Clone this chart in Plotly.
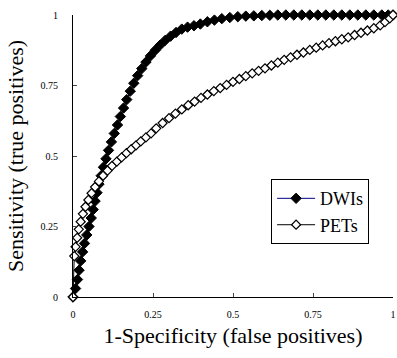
import plotly.graph_objects as go

# DWIs ROC points (1-specificity, sensitivity)
dwi_x = [0.000, 0.008, 0.014, 0.019, 0.024, 0.030, 0.036, 0.043, 0.050, 0.057,
         0.063, 0.069, 0.075, 0.081, 0.088, 0.095, 0.103, 0.111, 0.120, 0.129,
         0.139, 0.148, 0.158, 0.168, 0.179, 0.190, 0.202, 0.215, 0.228, 0.242,
         0.257, 0.272, 0.288, 0.305, 0.322, 0.340, 0.358, 0.378, 0.398, 0.420,
         0.442, 0.465, 0.490, 0.515, 0.540, 0.565, 0.590, 0.615, 0.640, 0.665,
         0.690, 0.715, 0.740, 0.765, 0.790, 0.815, 0.840, 0.865, 0.890, 0.915,
         0.940, 0.965, 0.985, 1.000]
dwi_y = [0.000, 0.030, 0.062, 0.095, 0.128, 0.160, 0.190, 0.220, 0.250, 0.280,
         0.310, 0.340, 0.370, 0.400, 0.430, 0.460, 0.490, 0.520, 0.550, 0.580,
         0.610, 0.640, 0.670, 0.700, 0.730, 0.758, 0.785, 0.810, 0.833, 0.855,
         0.875, 0.893, 0.910, 0.925, 0.938, 0.950, 0.957, 0.962, 0.968, 0.976,
         0.982, 0.987, 0.991, 0.994, 0.996, 0.997, 0.998, 0.999, 1.000, 1.000,
         1.000, 1.000, 1.000, 1.000, 1.000, 1.000, 1.000, 1.000, 1.000, 1.000,
         1.000, 1.000, 1.000, 1.000]

# PETs ROC points
pet_x = [0.000, 0.004, 0.008, 0.013, 0.018, 0.024, 0.031, 0.039, 0.048, 0.058,
         0.069, 0.081, 0.094, 0.108, 0.122, 0.137, 0.152, 0.167, 0.182, 0.197,
         0.212, 0.228, 0.244, 0.260, 0.280, 0.300, 0.320, 0.340, 0.360, 0.380,
         0.400, 0.420, 0.440, 0.460, 0.480, 0.500, 0.520, 0.540, 0.560, 0.580,
         0.600, 0.620, 0.640, 0.660, 0.680, 0.700, 0.720, 0.740, 0.760, 0.780,
         0.800, 0.820, 0.840, 0.860, 0.880, 0.900, 0.920, 0.940, 0.960, 0.975,
         0.990, 1.000]
pet_y = [0.000, 0.145, 0.178, 0.210, 0.240, 0.267, 0.295, 0.320, 0.344, 0.368,
         0.390, 0.410, 0.430, 0.448, 0.465, 0.480, 0.495, 0.510, 0.524, 0.538,
         0.552, 0.566, 0.580, 0.598, 0.617, 0.634, 0.650, 0.665, 0.680, 0.693,
         0.706, 0.718, 0.730, 0.741, 0.752, 0.763, 0.773, 0.783, 0.793, 0.802,
         0.811, 0.821, 0.831, 0.841, 0.850, 0.859, 0.867, 0.876, 0.884, 0.892,
         0.900, 0.907, 0.914, 0.921, 0.929, 0.937, 0.945, 0.953, 0.963, 0.975,
         0.988, 1.000]

tick_vals = [0, 0.25, 0.5, 0.75, 1]
tick_text = ["0", "0.25", "0.5", "0.75", "1"]

FONT = "Liberation Serif"

fig = go.Figure()
fig.add_trace(go.Scatter(
    x=dwi_x, y=dwi_y, name="DWIs", mode="lines+markers",
    line=dict(color="#000080", width=1),
    marker=dict(symbol="diamond", size=8, color="black",
                line=dict(color="black", width=1)),
    cliponaxis=False,
))
fig.add_trace(go.Scatter(
    x=pet_x, y=pet_y, name="PETs", mode="lines+markers",
    line=dict(color="black", width=1),
    marker=dict(symbol="diamond", size=7, color="white",
                line=dict(color="black", width=1.2)),
    cliponaxis=False,
))

fig.update_layout(
    width=397, height=358,
    margin=dict(l=73, r=4, t=15, b=61, autoexpand=False),
    paper_bgcolor="white", plot_bgcolor="white",
    font=dict(family=FONT, color="black"),
    showlegend=True,
    legend=dict(
        x=0.619, y=0.418, xanchor="left", yanchor="top",
        bgcolor="white", bordercolor="black", borderwidth=1,
        font=dict(family=FONT, size=18, color="black"),
        tracegroupgap=0, itemwidth=38,
    ),
)
fig.update_xaxes(
    range=[0, 1], tickvals=tick_vals, ticktext=tick_text, automargin=False,
    showgrid=False, zeroline=False, showline=True, linecolor="black", linewidth=1,
    ticks="inside", ticklen=4, tickcolor="#444",
    tickfont=dict(family=FONT, size=10), ticklabelstandoff=8,
    title=dict(text="1-Specificity (false positives)", font=dict(family=FONT, size=22), standoff=8),
)
fig.update_yaxes(
    range=[0, 1], tickvals=tick_vals, ticktext=tick_text, automargin=False,
    showgrid=False, zeroline=False, showline=True, linecolor="black", linewidth=1,
    ticks="inside", ticklen=4, tickcolor="#444",
    tickfont=dict(family=FONT, size=10), ticklabelstandoff=12,
    title=dict(text="Sensitivity (true positives)", font=dict(family=FONT, size=22), standoff=10),
)

fig.write_html("out.html", config={"displayModeBar": False},
               post_script="document.body.style.margin='0px';document.body.style.overflow='hidden';")
